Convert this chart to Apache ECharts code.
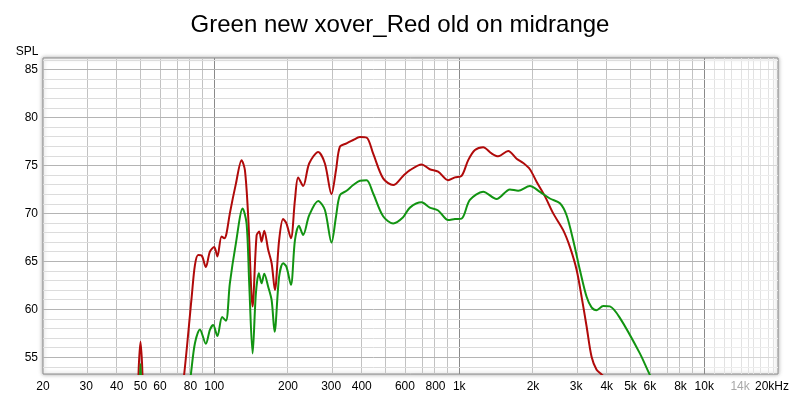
<!DOCTYPE html>
<html><head><meta charset="utf-8">
<script src="https://cdn.jsdelivr.net/npm/echarts@6/dist/echarts.min.js"></script>
<style>html,body{margin:0;padding:0;background:#fff}#c{width:800px;height:399px}</style>
</head><body><div id="c"></div>
<script>
const chartTitle = 'Green new xover_Red old on midrange';
const yName = 'SPL';

const redFreq = [20,30,40,46,48.5,49.3,50,50.7,51.5,54,60,68,72,75.4,80.9,83.4,86.0,88.8,92.4,96.0,100,103,107.1,110,112.2,115.8,122.6,129.3,133.4,137.6,143.4,148.9,152.6,156,160,166,171.5,176.8,184,191,197,205.5,213.5,220,230.6,244,265.6,282.9,301,314,325.8,346.8,369,393,418.6,445,489,537.6,590,629,702,758,820,901,960,1022,1088,1159,1252,1355,1442,1584,1714,1824,1942,2068,2236,2418,2656,2829,3014,3158,3310,3468,3636,3811,4000,4500,5500];
const redDb   = [44,45,46,47,50.5,54.5,56.6,54.5,50.5,47,46,47,49.5,53.25,61.3,64.6,65.65,65.6,64.4,66.0,66.5,65.5,67.6,67.4,67.9,70.0,73.1,75.55,74.5,69.65,60.3,67.7,68.1,67.05,68.2,66.2,64.8,62.0,67.2,69.4,68.95,67.4,71.4,73.75,72.85,75.2,76.4,75.2,72.0,74.5,76.95,77.3,77.65,77.95,77.9,76.25,73.65,72.95,73.9,74.5,75.1,74.6,74.35,73.45,73.75,73.9,75.55,76.6,76.9,76.25,75.95,76.5,75.7,75.25,74.6,73.3,71.8,70.0,68.25,66.5,64.1,61.3,58.2,55.05,53.7,53.2,52.7,50.5,47];

const greenFreq = [20,40,48.5,49.4,50,50.6,51.5,60,70,76,80.3,83.4,87.4,92.4,96,99,103,107.7,111.6,115.8,122.6,130.6,135.5,138.9,143.4,147.9,152.1,156,160,166,171.5,176.3,184,191,197,205.5,213.5,221.6,230.6,244,265.6,282.9,301,314,325.8,346.8,369,393,418.6,445,489,537.6,590,629,702,758,820,901,960,1022,1105,1252,1420,1610,1740,1942,2134,2344,2576,2742,2918,3108,3310,3468,3636,3869,4120,4525,5460,5962,6500,7500];
const greenDb   = [43,44,46,50.5,54.3,50.5,46,44,45,48.5,53.25,56.45,57.9,56.4,57.85,58.35,57.2,59.2,58.8,62.7,66.9,70.5,68.95,62.7,55.4,61.65,63.75,62.7,63.7,62.35,60.95,57.65,63.4,64.8,64.45,62.55,67.2,68.7,67.75,69.8,71.3,70.35,66.95,69.65,71.9,72.35,72.95,73.4,73.45,72.1,69.7,68.95,69.6,70.6,71.15,70.6,70.3,69.3,69.4,69.45,71.4,72.25,71.5,72.5,72.35,72.85,72.25,71.55,71.05,69.8,67.2,64.1,61.3,60.2,59.9,60.35,60.3,59.1,55.4,53.3,51.5,48];

const xTickFreqs  = [20,30,40,50,60,80,100,200,300,400,600,800,1000,2000,3000,4000,5000,6000,8000,10000,14000,20000];
const xTickLabels = ['20','30','40','50','60','80','100','200','300','400','600','800','1k','2k','3k','4k','5k','6k','8k','10k','14k','20kHz'];
const yTickValues = [55,60,65,70,75,80,85];
const gridFreqs = [20,30,40,50,60,70,80,90,100,200,300,400,500,600,700,800,900,1000,2000,3000,4000,5000,6000,7000,8000,9000,10000];
const decadeFreqs = [100,1000,10000];
const faintFreqs = [11000,12000,13000,14000,15000,16000,17000,18000,19000];
const dbGrid = [54,55,56,57,58,59,60,61,62,63,64,65,66,67,68,69,70,71,72,73,74,75,76,77,78,79,80,81,82,83,84,85,86];

const xMin = Math.log10(20), xMax = Math.log10(20000), xSplit = Math.log10(10000);
const yMin = 53.25, yMax = 86.2;
const L = Math.log10;

const vLines = [];
gridFreqs.forEach(f => vLines.push({xAxis: L(f), lineStyle: {color: decadeFreqs.includes(f) ? '#8a8a8a' : '#c2c2c2', width: 1, type: 'solid'}}));
faintFreqs.forEach(f => vLines.push({xAxis: L(f), lineStyle: {color: '#e2e2e2', width: 1, type: 'solid'}}));
const hLines = [];
dbGrid.forEach(d => {
  const major = d % 5 === 0;
  hLines.push([{coord: [xMin, d], lineStyle: {color: major ? '#b4b4b4' : '#dcdcdc', width: 1, type: 'solid'}}, {coord: [xSplit, d]}]);
  hLines.push([{coord: [xSplit, d], lineStyle: {color: major ? '#d6d6d6' : '#ededed', width: 1, type: 'solid'}}, {coord: [xMax, d]}]);
});

const chart = echarts.init(document.getElementById('c'), null, {renderer: 'canvas'});
const font = '"Liberation Sans", Arial, sans-serif';
chart.setOption({
  animation: false,
  backgroundColor: '#fff',
  title: {text: chartTitle, left: 'center', top: 8, textStyle: {fontFamily: font, fontSize: 24, fontWeight: 'normal', color: '#000'}},
  grid: {left: 43, right: 22, top: 58, bottom: 25, show: true, borderColor: '#8c8c8c', borderWidth: 1, backgroundColor: '#fff', shadowColor: 'rgba(0,0,0,0.35)', shadowBlur: 4},
  xAxis: {
    type: 'value', min: xMin, max: xMax,
    axisLine: {show: false}, axisTick: {show: false}, splitLine: {show: false},
    axisLabel: {
      customValues: xTickFreqs.map(f => L(f)),
      margin: 7, fontFamily: font, fontSize: 12, color: '#000',
      formatter: v => {
        const i = xTickFreqs.findIndex(f => Math.abs(L(f) - v) < 1e-6);
        const t = i >= 0 ? xTickLabels[i] : '';
        if (t === '14k') return '{g|14k}';
        if (t === '20kHz') return '{e|20kHz}';
        return t;
      },
      rich: {g: {color: '#a8a8a8', fontFamily: font, fontSize: 12}, e: {color: '#000', fontFamily: font, fontSize: 12, padding: [0, 12, 0, 0]}}
    }
  },
  yAxis: {
    type: 'value', min: yMin, max: yMax,
    name: yName, nameLocation: 'end', nameGap: 0,
    nameTextStyle: {fontFamily: font, fontSize: 12, color: '#000', padding: [0, 32, 0, 0]},
    axisLine: {show: false}, axisTick: {show: false}, splitLine: {show: false},
    axisLabel: {customValues: yTickValues, margin: 5, fontFamily: font, fontSize: 12, color: '#000'}
  },
  series: [
    {type: 'line', data: [], z: 1, silent: true,
     markLine: {z: 1, silent: true, symbol: ['none', 'none'], label: {show: false}, animation: false, emphasis: {disabled: true}, data: vLines.concat(hLines)}},
    {name: 'red', type: 'line', z: 8, showSymbol: false, smooth: 0.3, clip: true,
     lineStyle: {color: '#b00a0a', width: 2}, itemStyle: {color: '#b00a0a'},
     data: redFreq.map((f, i) => [L(f), redDb[i]])},
    {name: 'green', type: 'line', z: 9, showSymbol: false, smooth: 0.3, clip: true,
     lineStyle: {color: '#129412', width: 2}, itemStyle: {color: '#129412'},
     data: greenFreq.map((f, i) => [L(f), greenDb[i]])}
  ]
});
</script></body></html>
